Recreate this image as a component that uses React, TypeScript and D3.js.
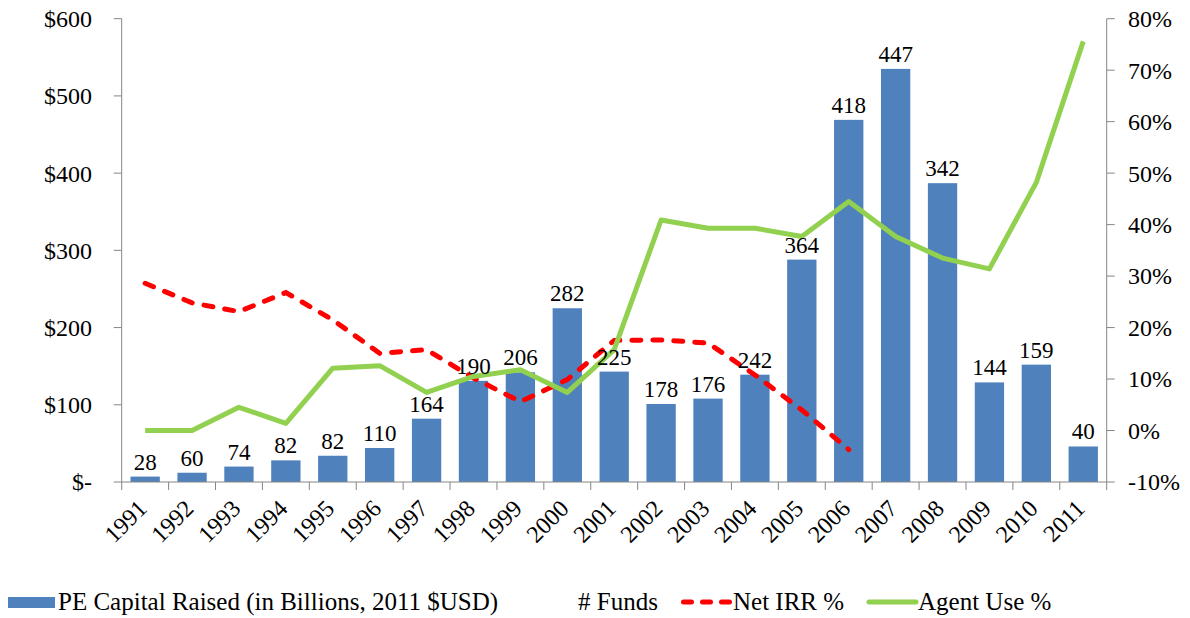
import React from "react";
import * as d3 from "d3";

const years = ["1991","1992","1993","1994","1995","1996","1997","1998","1999","2000","2001","2002","2003","2004","2005","2006","2007","2008","2009","2010","2011"];
const capitalRaised = [7, 12, 20, 28, 34, 44, 82, 131, 142, 225, 143, 101, 108, 139, 288, 469, 535, 387, 129, 152, 46];
const numFunds = [28, 60, 74, 82, 82, 110, 164, 190, 206, 282, 225, 178, 176, 242, 364, 418, 447, 342, 144, 159, 40];
const netIrrYears = ["1991","1992","1993","1994","1995","1996","1997","1998","1999","2000","2001","2002","2003","2004","2005","2006"];
const netIrr = [28.6, 24.8, 23.1, 26.8, 21.5, 15.0, 15.7, 10.2, 5.6, 9.9, 17.5, 17.6, 17.0, 10.8, 4.0, -3.7];
const agentUse = [0, 0, 4.5, 1.4, 12.1, 12.6, 7.4, 10.5, 11.8, 7.4, 15.7, 40.9, 39.3, 39.3, 37.7, 44.5, 37.7, 33.5, 31.4, 48.2, 75.6];
const leftTicks = [0, 100, 200, 300, 400, 500, 600];
const rightTicks = [-10, 0, 10, 20, 30, 40, 50, 60, 70, 80];

const W = 1190, H = 618;
const plotLeft = 121.7, plotRight = 1106.7, plotTop = 18.7, plotBottom = 482;
const FONT = '"Liberation Serif", "DejaVu Serif", serif';
const AXIS = "#868686";

export default function App() {
  const x = d3.scaleBand<string>().domain(years).range([plotLeft, plotRight]).paddingInner(0.375).paddingOuter(0.1875);
  const step = x.step();
  const cx = (y: string) => (x(y) as number) + x.bandwidth() / 2;
  const yL = d3.scaleLinear().domain([0, 600]).range([plotBottom, plotTop]);
  const yR = d3.scaleLinear().domain([-10, 80]).range([plotBottom, plotTop]);

  const irrLine = d3.line<number>().x((_, i) => cx(netIrrYears[i])).y((d) => yR(d));
  const agentLine = d3.line<number>().x((_, i) => cx(years[i])).y((d) => yR(d));

  const boundaries = d3.range(years.length + 1).map((i) => plotLeft + i * step);
  const ts = (size: number): React.CSSProperties => ({ fontFamily: FONT, fontSize: size + "px" });

  return (
    <svg width={W} height={H} style={{ position: "absolute", left: 0, top: 0, background: "#fff" }}>
      <rect x={0} y={0} width={W} height={H} fill="#fff" />
      {years.map((yr, i) => (
        <rect key={yr} x={x(yr)} y={yL(capitalRaised[i])} width={x.bandwidth()} height={plotBottom - yL(capitalRaised[i])} fill="#4F81BD" />
      ))}
      <line x1={plotLeft} y1={plotTop} x2={plotLeft} y2={plotBottom} stroke={AXIS} strokeWidth={1} />
      <line x1={plotRight} y1={plotTop} x2={plotRight} y2={plotBottom} stroke={AXIS} strokeWidth={1} />
      <line x1={plotLeft} y1={plotBottom} x2={plotRight} y2={plotBottom} stroke={AXIS} strokeWidth={1} />
      {leftTicks.map((t) => (
        <g key={"l" + t}>
          <line x1={plotLeft - 8} x2={plotLeft} y1={yL(t)} y2={yL(t)} stroke={AXIS} />
          <text x={92} y={yL(t)} dy="0.35em" textAnchor="end" style={ts(24)} fill="#000">{t === 0 ? "$-" : "$" + t}</text>
        </g>
      ))}
      {rightTicks.map((t) => (
        <g key={"r" + t}>
          <line x1={plotRight} x2={plotRight + 8} y1={yR(t)} y2={yR(t)} stroke={AXIS} />
          <text x={1128} y={yR(t)} dy="0.35em" textAnchor="start" style={ts(24)} fill="#000">{t + "%"}</text>
        </g>
      ))}
      {boundaries.map((b, i) => (
        <line key={"b" + i} x1={b} x2={b} y1={plotBottom} y2={plotBottom + 8} stroke={AXIS} />
      ))}
      {years.map((yr) => (
        <text key={"yl" + yr} transform={`translate(${cx(yr) + 3},${510}) rotate(-45)`} textAnchor="end" style={ts(24)} fill="#000">{yr}</text>
      ))}
      <path d={irrLine(netIrr) || ""} fill="none" stroke="#FF0000" strokeWidth={5} strokeDasharray="9 12" strokeLinecap="round" />
      <path d={agentLine(agentUse) || ""} fill="none" stroke="#92D050" strokeWidth={5} strokeLinejoin="round" />
      {years.map((yr, i) => (
        <text key={"dl" + yr} x={cx(yr)} y={yL(capitalRaised[i]) - 7} textAnchor="middle" style={ts(23)} fill="#000">{numFunds[i]}</text>
      ))}
      <rect x={8} y={597} width={47} height={11} fill="#4F81BD" />
      <text x={58} y={610} style={ts(25)} fill="#000">PE Capital Raised (in Billions, 2011 $USD)</text>
      <text x={578} y={610} style={ts(25)} fill="#000"># Funds</text>
      <line x1={683.5} x2={729.5} y1={602} y2={602} stroke="#FF0000" strokeWidth={5} strokeDasharray="8 11" strokeLinecap="round" />
      <text x={733} y={610} style={ts(25)} fill="#000">Net IRR %</text>
      <line x1={869} x2={916} y1={602} y2={602} stroke="#92D050" strokeWidth={5} strokeLinecap="round" />
      <text x={918} y={610} style={ts(25)} fill="#000">Agent Use %</text>
    </svg>
  );
}
